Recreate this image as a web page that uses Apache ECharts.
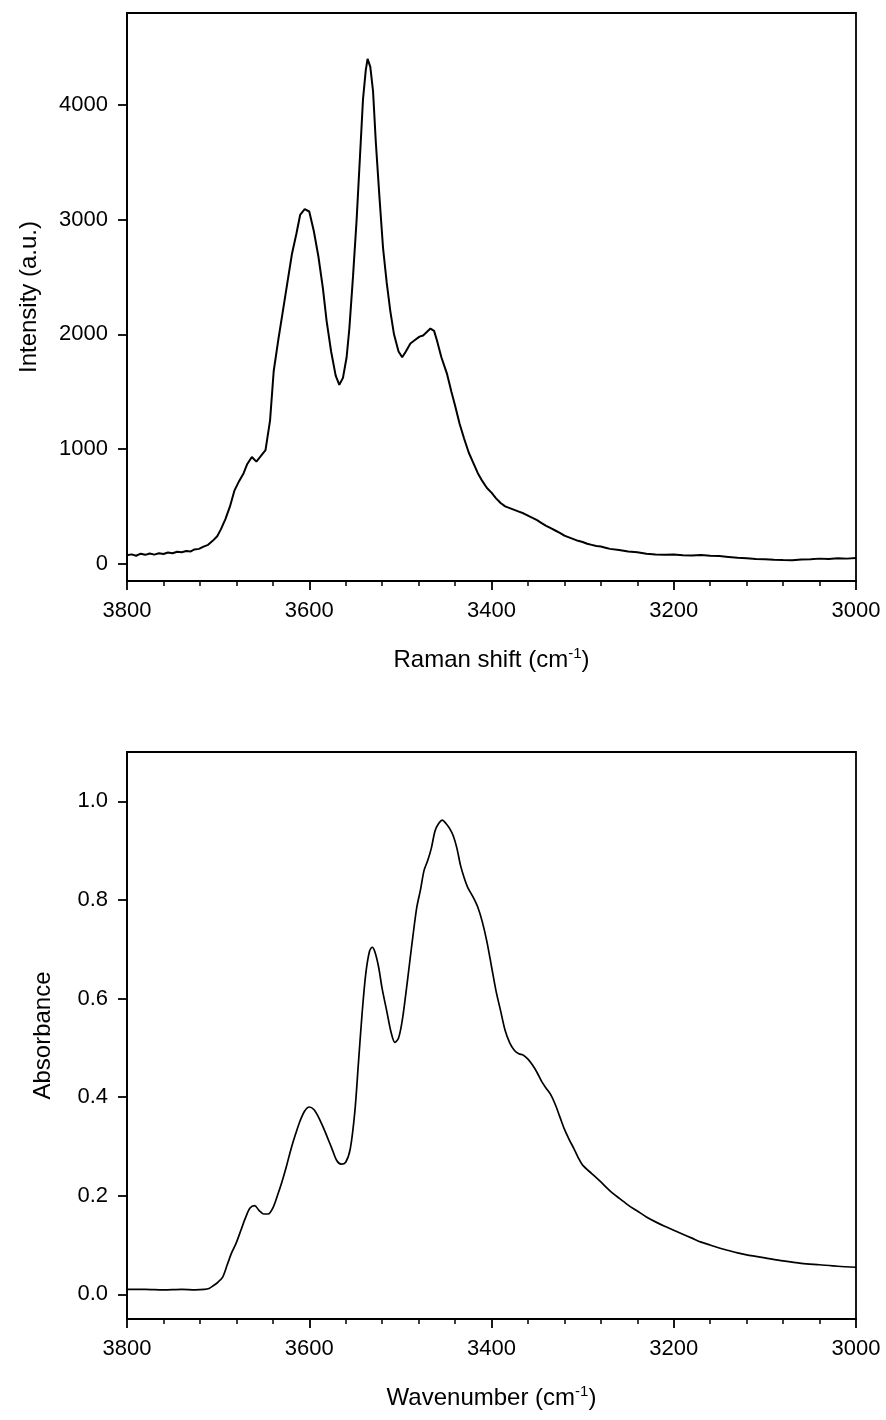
<!DOCTYPE html>
<html>
<head>
<meta charset="utf-8">
<script src="https://cdn.jsdelivr.net/npm/echarts@6/dist/echarts.min.js"></script>
<style>
html,body{margin:0;padding:0;background:#fff;}
#c{width:886px;height:1420px;}
</style>
</head>
<body>
<div id="c"></div>
<script>
// Raman spectrum (top): Raman shift (cm-1) and intensity (a.u.)
const ramanShift = [3800,3795,3790,3785,3780,3775,3770,3765,3760,3755,3750,3745,3740,3735,3730,3726,3721,3716,3711,3706,3701,3697,3692,3687,3682,3677,3672,3668,3663,3658,3653,3648,3643,3639,3634,3629,3624,3619,3614,3610,3605,3600,3595,3590,3585,3581,3576,3571,3567,3563,3559,3556,3552,3548,3544,3541,3538,3536,3533,3530,3527,3523,3519,3515,3511,3507,3502,3498,3494,3489,3484,3479,3475,3471,3467,3463,3460,3455,3449,3444,3440,3435,3430,3425,3420,3415,3410,3405,3400,3395,3390,3385,3380,3375,3370,3365,3360,3355,3350,3345,3340,3335,3330,3325,3320,3315,3310,3305,3300,3295,3290,3285,3280,3275,3270,3260,3250,3240,3230,3220,3210,3200,3190,3180,3170,3160,3150,3140,3130,3120,3110,3100,3090,3080,3070,3060,3050,3040,3030,3020,3010,3000];
const ramanIntensity = [75,82,70,88,78,90,80,92,85,98,92,105,100,112,108,125,130,150,165,200,240,300,390,500,640,720,790,870,930,890,940,990,1250,1680,1950,2200,2450,2700,2880,3040,3090,3070,2900,2680,2400,2120,1850,1640,1560,1620,1800,2050,2500,3000,3600,4050,4300,4400,4330,4120,3680,3200,2750,2450,2200,2000,1850,1800,1850,1920,1950,1980,1990,2020,2050,2030,1950,1800,1660,1500,1380,1220,1090,970,880,790,720,660,620,570,530,500,485,470,455,440,420,400,380,355,330,310,290,270,245,230,215,200,190,175,165,155,150,140,130,120,108,100,88,82,78,80,75,72,76,70,68,60,52,48,42,40,35,32,30,38,40,45,42,48,45,50];

// IR absorbance spectrum (bottom): wavenumber (cm-1) and absorbance
const irWavenumber = [3800,3780,3760,3740,3725,3715,3710,3705,3700,3695,3690,3685,3680,3675,3670,3665,3660,3655,3650,3645,3640,3635,3630,3625,3620,3615,3610,3605,3600,3595,3590,3585,3580,3575,3570,3565,3560,3555,3550,3546,3542,3538,3534,3531,3528,3524,3520,3515,3510,3506,3502,3498,3494,3490,3486,3482,3478,3474,3470,3466,3462,3458,3454,3450,3446,3442,3438,3434,3430,3426,3420,3415,3410,3405,3400,3395,3390,3385,3380,3375,3370,3365,3360,3355,3350,3345,3340,3335,3330,3325,3320,3315,3310,3305,3300,3290,3280,3270,3260,3250,3240,3230,3220,3210,3200,3190,3180,3170,3160,3150,3140,3130,3120,3110,3100,3080,3060,3040,3020,3000];
const irAbsorbance = [0.010,0.010,0.009,0.010,0.009,0.010,0.012,0.018,0.025,0.035,0.060,0.085,0.105,0.130,0.155,0.175,0.180,0.170,0.163,0.163,0.175,0.200,0.228,0.260,0.295,0.325,0.352,0.372,0.380,0.375,0.360,0.340,0.318,0.295,0.272,0.264,0.268,0.295,0.370,0.470,0.570,0.650,0.695,0.704,0.695,0.665,0.620,0.575,0.530,0.511,0.520,0.555,0.610,0.670,0.730,0.785,0.820,0.860,0.880,0.905,0.940,0.955,0.962,0.955,0.945,0.930,0.905,0.870,0.845,0.825,0.805,0.785,0.755,0.715,0.665,0.615,0.575,0.535,0.510,0.495,0.488,0.485,0.477,0.465,0.450,0.432,0.418,0.405,0.385,0.360,0.335,0.315,0.297,0.278,0.262,0.245,0.228,0.210,0.195,0.181,0.169,0.157,0.147,0.138,0.130,0.122,0.114,0.106,0.100,0.094,0.089,0.084,0.080,0.077,0.074,0.068,0.063,0.060,0.057,0.055];

const ramanTicks = [0,1000,2000,3000,4000];
const irTicks = [0,0.2,0.4,0.6,0.8,1.0];

const FONT = '"Liberation Sans", Arial, sans-serif';
const zip = (a,b) => a.map((v,i)=>[v,b[i]]);

function xAxisCfg(gridIndex, title){
  return {
    gridIndex, type:'value', min:3000, max:3800, interval:200, inverse:true,
    name: title, nameLocation:'middle', nameGap:65,
    nameTextStyle:{ rich:{
      a:{fontSize:24, color:'#000', fontFamily:FONT, lineHeight:28},
      s:{fontSize:15, color:'#000', fontFamily:FONT, verticalAlign:'top', lineHeight:15}
    }},
    axisLine:{show:true, onZero:false, lineStyle:{color:'#000', width:1.8}},
    axisTick:{show:true, inside:false, length:9, lineStyle:{color:'#000', width:1.8}},
    minorTick:{show:true, splitNumber:5, length:5, lineStyle:{color:'#000', width:1.5}},
    splitLine:{show:false}, minorSplitLine:{show:false},
    axisLabel:{fontSize:22, color:'#000', fontFamily:FONT, margin:19, formatter:v=>String(v)}
  };
}
function yAxisCfg(gridIndex, title, min, max, ticks, gap, fmt){
  return {
    gridIndex, type:'value', min, max,
    name:title, nameLocation:'middle', nameGap:gap, nameRotate:90,
    nameTextStyle:{fontSize:24, color:'#000', fontFamily:FONT},
    axisLine:{show:true, onZero:false, lineStyle:{color:'#000', width:1.8}},
    axisTick:{show:true, inside:false, length:9, customValues:ticks, lineStyle:{color:'#000', width:1.8}},
    splitLine:{show:false},
    axisLabel:{fontSize:22, color:'#000', fontFamily:FONT, margin:19, customValues:ticks, formatter:fmt}
  };
}

const chart = echarts.init(document.getElementById('c'), null, {renderer:'canvas'});
chart.setOption({
  animation:false,
  backgroundColor:'#fff',
  grid:[
    {left:127, right:30, top:13, height:568, show:true, borderColor:'#000', borderWidth:1.8, backgroundColor:'transparent'},
    {left:127, right:30, top:752, height:567, show:true, borderColor:'#000', borderWidth:1.8, backgroundColor:'transparent'}
  ],
  xAxis:[
    xAxisCfg(0, '{a|Raman shift (cm}{s|-1}{a|)}'),
    xAxisCfg(1, '{a|Wavenumber (cm}{s|-1}{a|)}')
  ],
  yAxis:[
    yAxisCfg(0, 'Intensity (a.u.)', -150, 4800, ramanTicks, 86, v=>String(v)),
    yAxisCfg(1, 'Absorbance', -0.05, 1.1, irTicks, 72, v=>v.toFixed(1))
  ],
  series:[
    {type:'line', xAxisIndex:0, yAxisIndex:0, data:zip(ramanShift, ramanIntensity), showSymbol:false, symbol:'none',
     lineStyle:{color:'#000', width:2}, smooth:false},
    {type:'line', xAxisIndex:1, yAxisIndex:1, data:zip(irWavenumber, irAbsorbance), showSymbol:false, symbol:'none',
     lineStyle:{color:'#000', width:1.7}, smooth:0.3}
  ]
});
</script>
</body>
</html>
